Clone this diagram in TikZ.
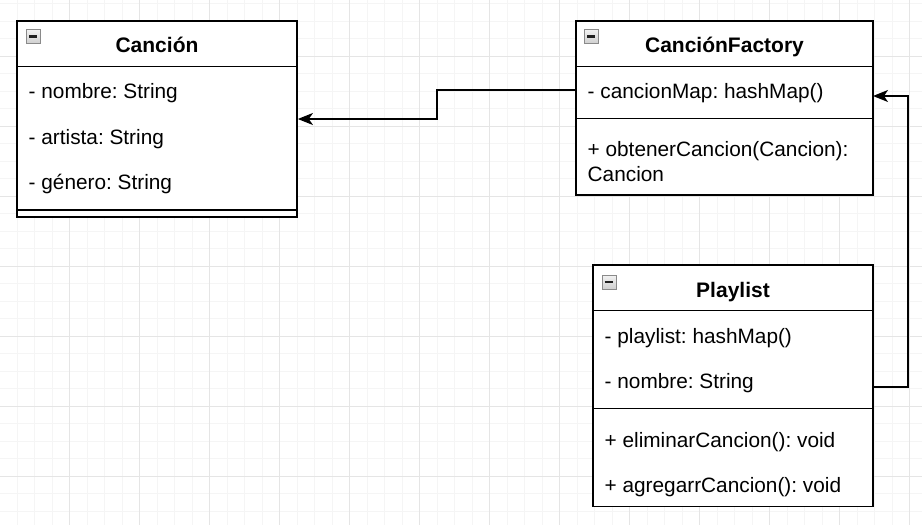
\documentclass[tikz,border=0pt]{standalone}
\usepackage{fontspec}
\setmainfont{Liberation Sans}
\usetikzlibrary{arrows.meta}
\frenchspacing
\definecolor{gridminor}{HTML}{F5F5F5}
\definecolor{gridmajor}{HTML}{E5E5E5}
\definecolor{iconborder}{HTML}{8A8A8A}
\definecolor{icontop}{HTML}{F2F2F2}
\definecolor{iconbot}{HTML}{CFCFCF}
\definecolor{iconbar}{HTML}{202020}
\tikzset{
  classbox/.style={draw=black, line width=1.75pt, fill=white, rectangle, inner sep=0pt},
  sepline/.style={line width=1.75pt},
  ctitle/.style={font=\fontsize{21}{25}\selectfont\bfseries, anchor=base, inner sep=0pt},
  member/.style={font=\fontsize{20.8}{25}\selectfont, anchor=base west, inner sep=0pt},
  conn/.style={line width=1.75pt, -{Stealth[length=15pt,width=12pt,inset=4pt]}},
  iconbox/.style={draw=iconborder, line width=1pt, top color=icontop, bottom color=iconbot,
    rectangle, minimum size=14pt, inner sep=0pt},
  iconbarline/.style={draw=iconbar, line width=2.4pt}
}
\begin{document}
\begin{tikzpicture}[x=1pt,y=-1pt]
\useasboundingbox (0,0) rectangle (922,525);
\fill[white] (0,0) rectangle (922,525);
% grid
\foreach \i in {0,...,53} \draw[gridminor, line width=1pt] (-0.5+17.5*\i,0) -- ++(0,525);
\foreach \j in {0,...,30} \draw[gridminor, line width=1pt] (0,3.5+17.5*\j) -- ++(922,0);
\foreach \i in {0,...,13} \draw[gridmajor, line width=1pt] (69.5+70*\i,0) -- ++(0,525);
\foreach \j in {0,...,7} \draw[gridmajor, line width=1pt] (0,56+70*\j) -- ++(922,0);

% ---------- Cancion ----------
\node[classbox, minimum width=280pt, minimum height=196pt] (cancion) at (157,119) {};
\draw[sepline] (17,66.5) -- (297,66.5);
\draw[sepline] (17,210) -- (297,210);
\node[iconbox] (icon1) at (33.5,36.5) {};
\draw[iconbarline] (icon1.west) ++(3,0) -- ++(8,0);
\node[ctitle] (t1) at (157,52.5) {Canción};
\node[member] (c1) at (28.5,98.5) {- nombre: String};
\node[member] (c2) at (28.5,144) {- artista: String};
\node[member] (c3) at (28.5,189.5) {- género: String};

% ---------- CancionFactory ----------
\node[classbox, minimum width=297pt, minimum height=174pt] (factory) at (724.5,108) {};
\draw[sepline] (576,66.5) -- (873,66.5);
\draw[sepline] (576,118.5) -- (873,118.5);
\node[iconbox] (icon2) at (591.5,36.5) {};
\draw[iconbarline] (icon2.west) ++(3,0) -- ++(8,0);
\node[ctitle] (t2) at (724.5,52.5) {CanciónFactory};
\node[member] (f1) at (587.5,98.5) {- cancionMap: hashMap()};
\node[member] (f2) at (587.5,156.5) {+ obtenerCancion(Cancion):};
\node[member] (f3) at (587.5,181.5) {Cancion};

% ---------- Playlist ----------
\node[classbox, minimum width=280pt, minimum height=241.5pt] (playlist) at (733,385.75) {};
\draw[sepline] (593,310.5) -- (873,310.5);
\draw[sepline] (593,408.5) -- (873,408.5);
\node[iconbox] (icon3) at (609,282) {};
\draw[iconbarline] (icon3.west) ++(3,0) -- ++(8,0);
\node[ctitle] (t3) at (733,297) {Playlist};
\node[member] (p1) at (604.5,343.5) {- playlist: hashMap()};
\node[member] (p2) at (604.5,388.5) {- nombre: String};
\node[member] (p3) at (604.5,447) {+ eliminarCancion(): void};
\node[member] (p4) at (604.5,492.5) {+ agregarrCancion(): void};

% ---------- connectors ----------
\coordinate (fmapL) at (576,90);
\coordinate (fmapR) at (873,96);
\coordinate (plR) at (873,387);
\draw[conn] (fmapL) -- ++(-139.3,0) |- (cancion.east);
\draw[conn] (plR) -- ++(35,0) |- (fmapR);
\end{tikzpicture}
\end{document}
